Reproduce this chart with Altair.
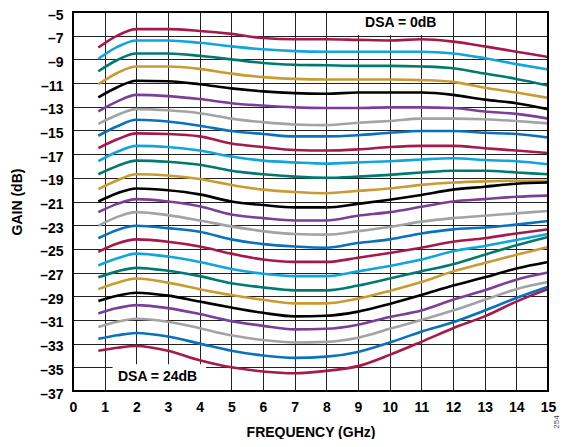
import altair as alt
import pandas as pd

freq_ghz = [0.8, 1.4, 2, 3, 4, 5, 6, 7, 8, 9, 10, 11, 12, 13, 14, 15]

dsa_00 = [-8.0, -7.0, -6.45, -6.45, -6.6, -6.85, -7.2, -7.3, -7.3, -7.35, -7.4, -7.3, -7.5, -7.9, -8.35, -8.8]
dsa_01 = [-8.95, -7.95, -7.4, -7.4, -7.6, -7.9, -8.15, -8.3, -8.35, -8.35, -8.35, -8.35, -8.5, -8.9, -9.4, -9.85]
dsa_02 = [-10.0, -9.05, -8.5, -8.5, -8.7, -9.0, -9.3, -9.45, -9.5, -9.55, -9.55, -9.6, -9.75, -10.2, -10.65, -11.2]
dsa_03 = [-11.1, -10.15, -9.6, -9.6, -9.8, -10.2, -10.5, -10.65, -10.7, -10.7, -10.7, -10.75, -10.9, -11.4, -11.8, -12.25]
dsa_04 = [-12.2, -11.35, -10.8, -10.85, -11.1, -11.45, -11.7, -11.85, -11.9, -11.8, -11.8, -11.8, -12.0, -12.4, -12.7, -13.2]
dsa_05 = [-13.4, -12.55, -12.0, -12.1, -12.35, -12.7, -12.9, -13.05, -13.1, -13.1, -13.05, -13.05, -13.1, -13.4, -13.6, -14.0]
dsa_06 = [-14.45, -13.7, -13.2, -13.3, -13.55, -14.0, -14.3, -14.5, -14.55, -14.35, -14.2, -14.0, -14.0, -14.05, -14.2, -14.4]
dsa_07 = [-15.45, -14.65, -14.1, -14.25, -14.6, -15.05, -15.3, -15.5, -15.5, -15.4, -15.2, -15.05, -15.05, -15.2, -15.3, -15.6]
dsa_08 = [-16.5, -15.75, -15.25, -15.3, -15.5, -16.1, -16.4, -16.65, -16.7, -16.6, -16.4, -16.3, -16.3, -16.5, -16.7, -16.9]
dsa_09 = [-17.6, -16.8, -16.3, -16.4, -16.7, -17.2, -17.55, -17.7, -17.8, -17.7, -17.6, -17.45, -17.35, -17.5, -17.6, -17.85]
dsa_10 = [-18.7, -18.0, -17.55, -17.65, -17.9, -18.4, -18.7, -18.9, -19.0, -18.9, -18.75, -18.55, -18.4, -18.4, -18.55, -18.7]
dsa_11 = [-19.95, -19.2, -18.7, -18.8, -19.1, -19.6, -20.0, -20.2, -20.3, -20.1, -19.9, -19.6, -19.4, -19.3, -19.25, -19.25]
dsa_12 = [-21.0, -20.3, -19.9, -20.05, -20.4, -21.0, -21.3, -21.5, -21.5, -21.2, -20.85, -20.45, -20.0, -19.75, -19.5, -19.4]
dsa_13 = [-21.9, -21.2, -20.8, -21.0, -21.4, -22.1, -22.4, -22.6, -22.6, -22.2, -21.9, -21.45, -21.0, -20.8, -20.6, -20.5]
dsa_14 = [-23.05, -22.3, -21.9, -22.15, -22.6, -23.1, -23.5, -23.75, -23.8, -23.5, -23.15, -22.7, -22.4, -22.2, -22.0, -21.8]
dsa_15 = [-24.1, -23.4, -23.05, -23.25, -23.55, -24.2, -24.6, -24.8, -24.9, -24.5, -24.2, -23.7, -23.35, -23.2, -22.95, -22.65]
dsa_16 = [-25.25, -24.55, -24.2, -24.4, -24.8, -25.4, -25.9, -26.1, -26.1, -25.75, -25.35, -24.9, -24.4, -24.1, -23.7, -23.35]
dsa_17 = [-26.4, -25.8, -25.4, -25.65, -26.1, -26.7, -27.1, -27.3, -27.3, -26.9, -26.45, -25.9, -25.2, -24.75, -24.25, -23.75]
dsa_18 = [-27.4, -26.9, -26.6, -26.85, -27.3, -27.9, -28.25, -28.5, -28.5, -28.1, -27.5, -26.9, -26.3, -25.5, -24.7, -24.0]
dsa_19 = [-28.4, -27.85, -27.5, -27.85, -28.4, -28.9, -29.3, -29.6, -29.6, -29.2, -28.55, -27.8, -26.9, -26.2, -25.5, -24.85]
dsa_20 = [-29.4, -28.95, -28.7, -28.95, -29.45, -29.95, -30.4, -30.7, -30.65, -30.3, -29.65, -28.9, -28.1, -27.4, -26.65, -26.1]
dsa_21 = [-30.45, -30.0, -29.75, -30.0, -30.5, -31.1, -31.5, -31.8, -31.75, -31.4, -30.75, -30.2, -29.3, -28.5, -27.6, -27.0]
dsa_22 = [-31.6, -31.15, -30.9, -31.15, -31.7, -32.3, -32.7, -32.9, -32.85, -32.5, -31.75, -31.0, -30.2, -29.3, -28.4, -27.8]
dsa_23 = [-32.6, -32.3, -32.1, -32.4, -33.0, -33.6, -34.0, -34.2, -34.1, -33.7, -32.9, -32.0, -31.2, -30.2, -29.15, -28.2]
dsa_24 = [-33.6, -33.35, -33.2, -33.6, -34.4, -35.0, -35.35, -35.5, -35.3, -34.9, -33.95, -32.85, -31.7, -30.7, -29.45, -28.4]

curves = [dsa_00, dsa_01, dsa_02, dsa_03, dsa_04, dsa_05, dsa_06, dsa_07, dsa_08,
          dsa_09, dsa_10, dsa_11, dsa_12, dsa_13, dsa_14, dsa_15, dsa_16, dsa_17,
          dsa_18, dsa_19, dsa_20, dsa_21, dsa_22, dsa_23, dsa_24]

palette = ["#A6194B", "#10A5DC", "#00796F", "#C99B33", "#000000", "#7B3F98", "#A3A3A3", "#0A72BD"]
x_ticks = list(range(0, 16))
y_ticks = list(range(-37, -4, 2))

rows = []
for i, c in enumerate(curves):
    for f, g in zip(freq_ghz, c):
        rows.append({"dsa": i, "freq": f, "gain": g})
df = pd.DataFrame(rows)
colors = [palette[i % len(palette)] for i in range(len(curves))]

FONT = "Liberation Sans"

xenc = alt.X("freq:Q", scale=alt.Scale(domain=[0, 15], nice=False, zero=False),
             axis=alt.Axis(values=x_ticks, title="FREQUENCY (GHz)", grid=True, ticks=False,
                           domain=False, labelPadding=9, titlePadding=11, labelFlush=False))
yenc = alt.Y("gain:Q", scale=alt.Scale(domain=[-37, -5], nice=False, zero=False),
             axis=alt.Axis(values=y_ticks, title="GAIN (dB)", grid=True, ticks=False,
                           domain=False, labelPadding=10, titlePadding=15, labelFlush=False,
                           labelOffset=3,
                           labelExpr="datum.value < 0 ? '\u2013' + abs(datum.value) : datum.label"))

# white label boxes
box_df = pd.DataFrame({"freq": [8.9, 1.25], "freq2": [11.8, 4.2],
                       "gain": [-5.05, -34.75], "gain2": [-6.95, -36.95]})
boxes = alt.Chart(box_df).mark_rect(fill="white", stroke=None).encode(
    x=xenc, x2="freq2:Q", y=yenc, y2="gain2:Q")

lines = alt.Chart(df).mark_line(interpolate="monotone", strokeWidth=2.6).encode(
    x=xenc, y=yenc,
    color=alt.Color("dsa:N", scale=alt.Scale(domain=list(range(len(curves))), range=colors), legend=None),
    order=alt.Order("freq:Q"))

border_df = pd.DataFrame({"freq": [0], "freq2": [15], "gain": [-37], "gain2": [-5]})
border = alt.Chart(border_df).mark_rect(fillOpacity=0, stroke="black", strokeWidth=2).encode(
    x=xenc, x2="freq2:Q", y=yenc, y2="gain2:Q")

label_df = pd.DataFrame({"freq": [10.35, 2.67], "gain": [-5.93, -35.85],
                         "text": ["DSA = 0dB", "DSA = 24dB"]})
labels = alt.Chart(label_df).mark_text(font=FONT, fontWeight="bold", fontSize=14,
                                        color="black", align="center", baseline="middle").encode(
    x=xenc, y=yenc, text="text:N")

fig_id = alt.Chart(pd.DataFrame({"t": ["254"]})).mark_text(
    font=FONT, fontSize=8, color="#444", angle=270, align="center", baseline="middle").encode(
    x=alt.value(484), y=alt.value(410), text="t:N")

chart = alt.layer(boxes, lines, border, labels, fig_id).properties(
    width=475, height=379,
    autosize=alt.AutoSizeParams(type="none"),
    padding={"left": 65, "top": 4, "right": 16, "bottom": 48},
).configure_axis(
    labelFont=FONT, labelFontWeight="bold", labelFontSize=14, labelColor="black",
    titleFont=FONT, titleFontWeight="bold", titleFontSize=14, titleColor="black",
    gridColor="#222222", gridWidth=1, gridOpacity=1,
).configure_view(stroke=None)

chart.save("out.html", embed_options={"renderer": "svg", "actions": False})
